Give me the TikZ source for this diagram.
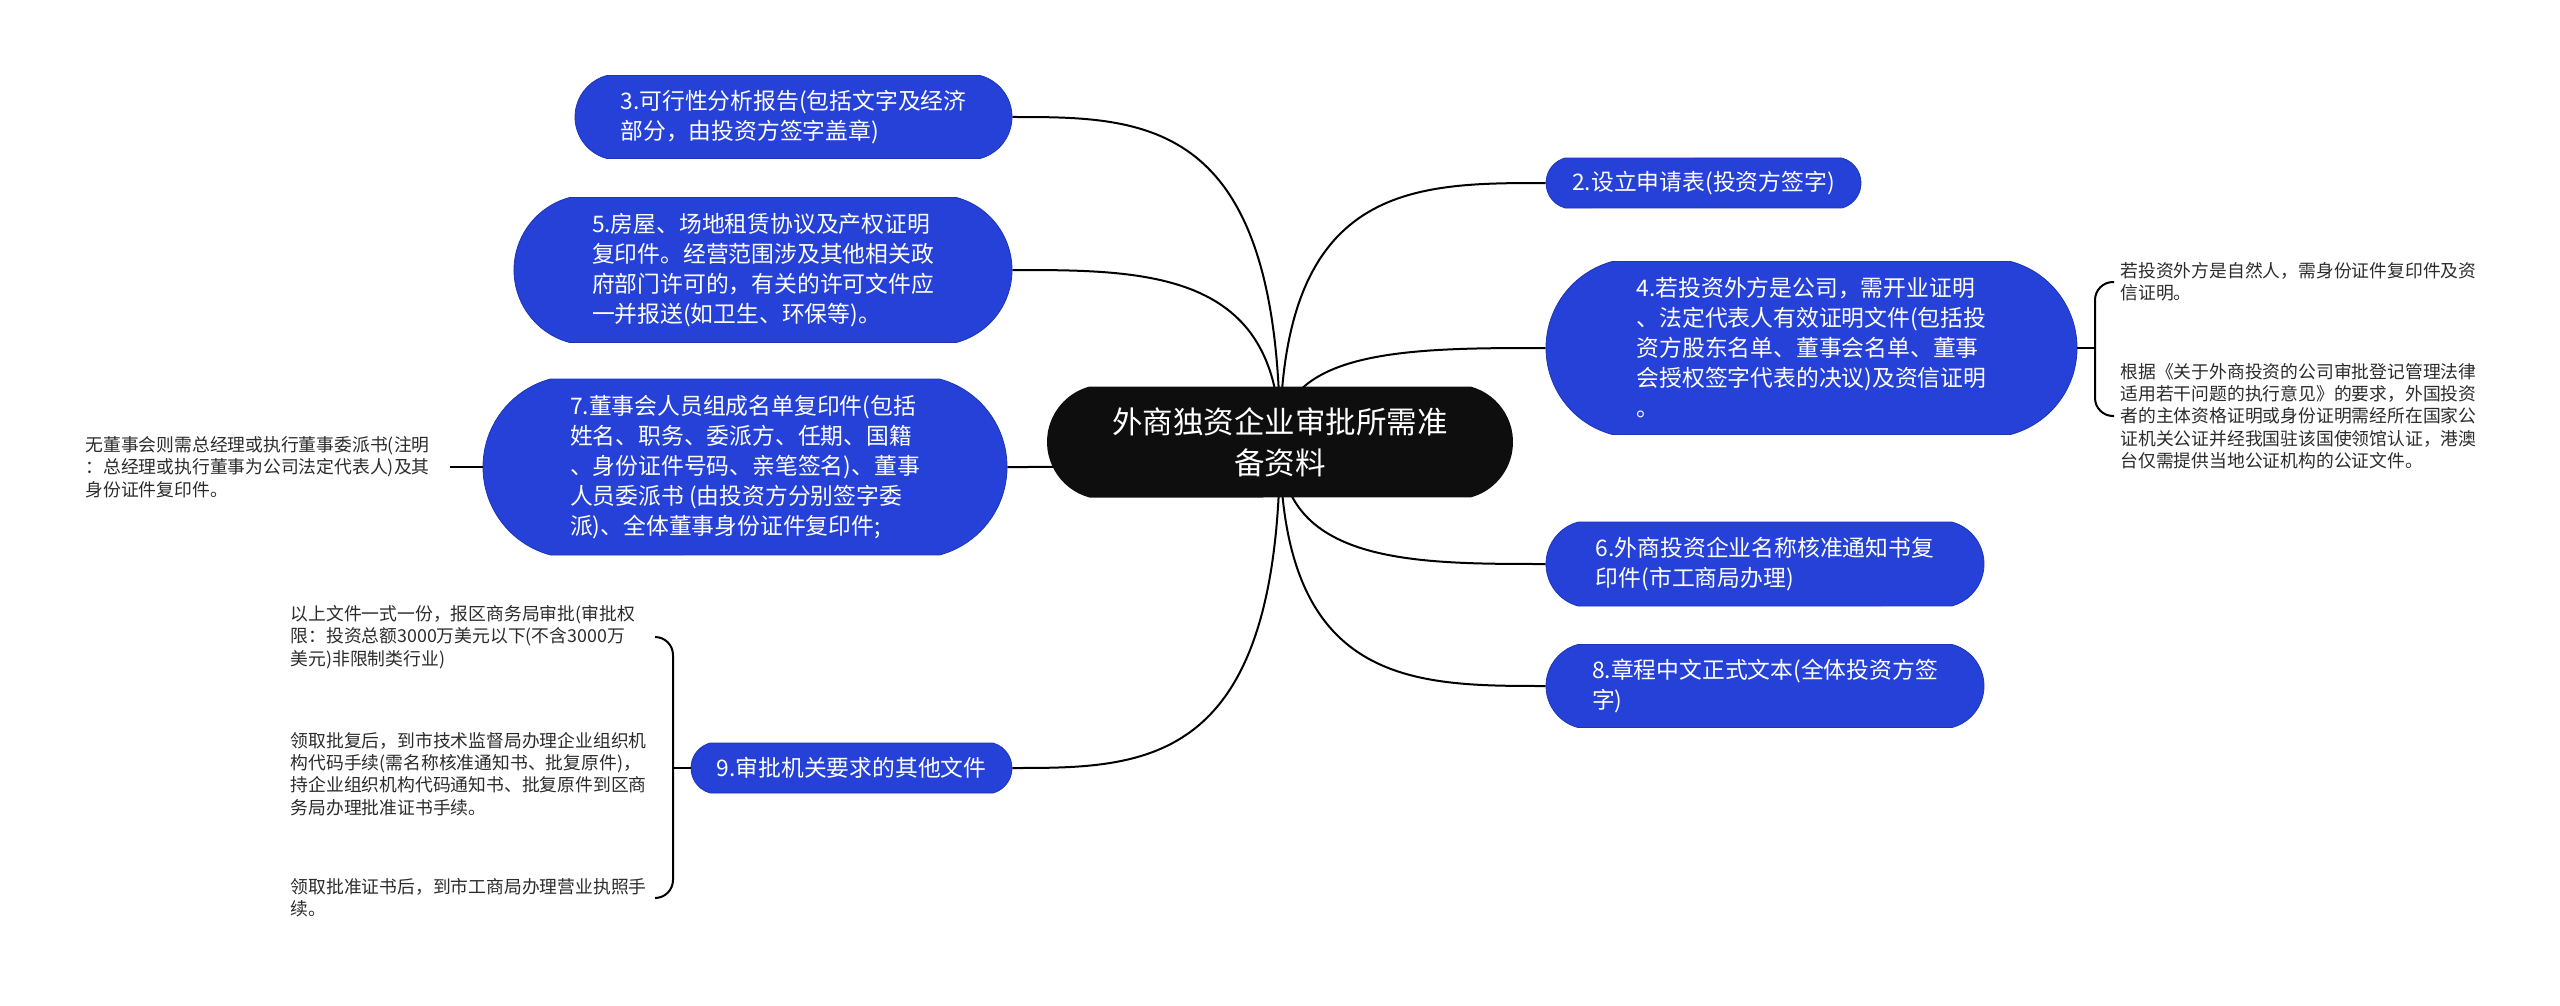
\documentclass[tikz,border=0pt]{standalone}
\usepackage{fontspec}
\setmainfont{Noto Sans CJK SC}
\usepackage{tikz}
\usetikzlibrary{shapes.misc,calc,backgrounds}
\definecolor{cmain}{HTML}{0E0E0E}
\definecolor{ctopic}{HTML}{2541D8}
\definecolor{cedge}{HTML}{1C34B6}
\definecolor{cleaf}{HTML}{2B2B2B}
\tikzset{
  pill/.style={rounded rectangle, rounded rectangle arc length=150, inner sep=0pt, text=white},
  root/.style={pill, fill=cmain, align=center, font=\fontsize{15.25pt}{20.5pt}\selectfont},
  topic/.style={pill, fill=ctopic, draw=cedge, line width=0.4pt, align=left, font=\fontsize{11.4pt}{15pt}\selectfont},
  leaf/.style={align=left, text width=179pt, inner sep=3pt, text=cleaf, font=\fontsize{8.9pt}{11.15pt}\selectfont},
  branch/.style={line width=1pt, to path={.. controls (\tikztostart |- \tikztotarget) and ($(\tikztostart |- \tikztotarget)!0.5!(\tikztotarget)$) .. (\tikztotarget)}},
  brace/.style={line width=1pt, rounded corners=9pt},
}

\begin{document}
\begin{tikzpicture}[x=0.5pt,y=-0.5pt]
\useasboundingbox (0,0) rectangle (2560,1006);
\node[root, minimum width=233pt, minimum height=55.5pt] (main) at (1280,442) {外商独资企业审批所需准\\备资料};
% left topics
\node[topic, minimum width=218.5pt, minimum height=41.5pt] (t3) at (793.5,117) {3.可行性分析报告(包括文字及经济\\部分，由投资方签字盖章)};
\node[topic, minimum width=249pt, minimum height=72.5pt] (t5) at (763,270) {5.房屋、场地租赁协议及产权证明\\复印件。经营范围涉及其他相关政\\府部门许可的，有关的许可文件应\\一并报送(如卫生、环保等)。};
\node[topic, minimum width=262pt, minimum height=88pt] (t7) at (745,467) {7.董事会人员组成名单复印件(包括\\姓名、职务、委派方、任期、国籍\\、身份证件号码、亲笔签名)、董事\\人员委派书 (由投资方分别签字委\\派)、全体董事身份证件复印件;};
\node[topic, minimum width=160.5pt, minimum height=25pt] (t9) at (851.5,768) {9.审批机关要求的其他文件};
% right topics
\node[topic, minimum width=157.5pt, minimum height=25pt] (t2) at (1703.5,183) {2.设立申请表(投资方签字)};
\node[topic, minimum width=265.5pt, minimum height=86.5pt] (t4) at (1811.5,348) {4.若投资外方是公司，需开业证明\\、法定代表人有效证明文件(包括投\\资方股东名单、董事会名单、董事\\会授权签字代表的决议)及资信证明\\。};
\node[topic, minimum width=219pt, minimum height=42pt] (t6) at (1765,564) {6.外商投资企业名称核准通知书复\\印件(市工商局办理)};
\node[topic, minimum width=219pt, minimum height=41.5pt] (t8) at (1765,686) {8.章程中文正式文本(全体投资方签\\字)};
% leaves
\node[leaf, anchor=west] (l7) at (79,467) {无董事会则需总经理或执行董事委派书(注明\\：总经理或执行董事为公司法定代表人)及其\\身份证件复印件。};
\node[leaf, anchor=east] (l9a) at (655,637) {以上文件一式一份，报区商务局审批(审批权\\限：投资总额3000万美元以下(不含3000万\\美元)非限制类行业)};
\node[leaf, anchor=east] (l9b) at (655,774) {领取批复后，到市技术监督局办理企业组织机\\构代码手续(需名称核准通知书、批复原件)，\\持企业组织机构代码通知书、批复原件到区商\\务局办理批准证书手续。};
\node[leaf, anchor=east] (l9c) at (655,898) {领取批准证书后，到市工商局办理营业执照手\\续。};
\node[leaf, anchor=west] (l4a) at (2114,282) {若投资外方是自然人，需身份证件复印件及资\\信证明。};
\node[leaf, anchor=west] (l4b) at (2114,416) {根据《关于外商投资的公司审批登记管理法律\\适用若干问题的执行意见》的要求，外国投资\\者的主体资格证明或身份证明需经所在国家公\\证机关公证并经我国驻该国使领馆认证，港澳\\台仅需提供当地公证机构的公证文件。};
\coordinate (s9) at (673,768);
\coordinate (s4) at (2095,348);
% connectors
\begin{scope}[on background layer]
\foreach \nd in {t3,t5,t7,t9}{\draw[branch] (main.center) to (\nd.east);}
\foreach \nd in {t2,t4,t6,t8}{\draw[branch] (main.center) to (\nd.west);}
\end{scope}
\draw[brace] (l7.east) -- (t7.west);
\draw[brace] (t9.west) -- (s9);
\draw[brace] (l9a.east) -| (s9) |- (l9c.east);
\draw[brace] (t4.east) -- (s4);
\draw[brace] (l4a.west) -| (s4) |- (l4b.west);
\end{tikzpicture}
\end{document}
